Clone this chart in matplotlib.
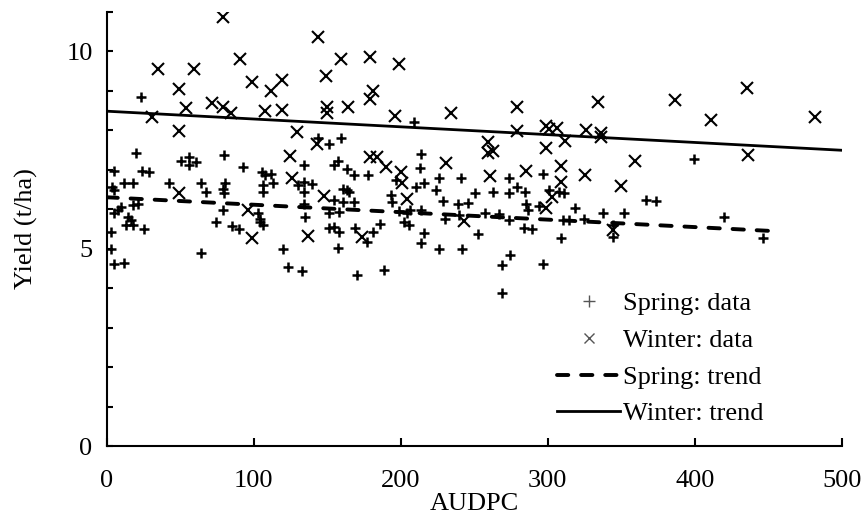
import matplotlib
matplotlib.use("Agg")
import matplotlib.pyplot as plt
from matplotlib.lines import Line2D
import numpy as np

plt.rcParams['font.family'] = ['Liberation Serif', 'DejaVu Serif']

# ---- data ----
spring_x = [20.1, 5.4, 24.2, 28.7, 12.2, 17.9, 3.9, 4.8, 42.8, 50.7, 56.4, 56.4, 60.9, 80.2, 93.1,
            64.3, 67.7, 80.8, 79.5, 80.2, 105.8, 108, 111.9, 113, 106.2, 106.2, 10, 7.7, 5.4, 17.9,
            21.3, 14.5, 16.8, 13.4, 17.9, 25.3, 3.2, 3.2, 5.4, 12.2, 79, 74.5, 85.4, 90.4, 64.3,
            102.8, 104, 106.2, 104, 143.5, 151.5, 159.4, 213.8, 213, 134.5, 157.1, 154.9, 163.3,
            168.5, 178, 134.5, 130, 139.7, 134.5, 134.5, 135.2, 154.9, 161, 163.3, 165, 160.5,
            168.5, 151.5, 158.3, 151.5, 154.9, 157.8, 169.2, 181, 186, 176.8, 157.1, 120.2, 123.6,
            132.9, 170.3, 188.9, 193.4, 194.1, 196.8, 210.4, 216, 199, 204, 206, 202.4, 205.8,
            213.8, 224, 226.2, 229, 230.3, 216, 213.8, 225.7, 241, 250.7, 262.9, 273.3, 273.3,
            278.7, 284.6, 296.9, 301, 307.7, 311, 238.7, 245.4, 239.8, 257.5, 267, 273.8, 285,
            286.3, 293.7, 284, 289.2, 318.6, 324.7, 337.2, 310, 314.5, 308.9, 344, 344, 252.2,
            241.6, 274.5, 268.8, 296.9, 268.8, 209.2, 23.6, 399.5, 366.6, 373.4, 351.9, 419.8,
            446.5]
spring_y = [7.41, 6.97, 6.97, 6.93, 6.67, 6.65, 6.56, 6.48, 6.67, 7.22, 7.32, 7.11, 7.20, 7.38, 7.06,
            6.65, 6.44, 6.65, 6.52, 6.40, 6.94, 6.86, 6.90, 6.65, 6.61, 6.44, 6.06, 5.97, 5.91, 6.10,
            6.12, 5.81, 5.72, 5.59, 5.59, 5.49, 5.43, 5.00, 4.62, 4.64, 5.97, 5.68, 5.57, 5.49, 4.89,
            5.91, 5.76, 5.59, 5.68, 7.79, 7.66, 7.79, 7.39, 7.03, 7.11, 7.22, 7.11, 7.01,
            6.86, 6.86, 6.69, 6.61, 6.63, 6.44, 6.14, 5.79, 6.23, 6.50, 6.48, 6.44, 6.18,
            6.18, 5.91, 5.93, 5.51, 5.54, 5.43, 5.51, 5.43, 5.62, 5.17, 5.02, 5.00, 4.54,
            4.43, 4.33, 4.47, 6.35, 6.18, 6.73, 6.56, 6.65, 5.96, 5.89, 5.97, 5.68, 5.59,
            5.97, 6.48, 6.80, 6.21, 5.76, 5.40, 5.13, 5.00, 6.78, 6.42, 6.44, 6.42, 6.80,
            6.55, 6.44, 6.90, 6.48, 6.44, 6.41, 6.14, 6.16, 5.85, 5.91, 5.87, 5.72, 6.14,
            5.97, 6.08, 5.51, 5.49, 6.02, 5.76, 5.91, 5.72, 5.72, 5.26, 5.59, 5.30, 5.36,
            4.98, 4.84, 4.58, 4.61, 3.88, 8.21, 8.84, 7.28, 6.23, 6.21, 5.91, 5.79,
            5.26]

winter_x = [79.5, 35.3, 59.8, 49.6, 54.3, 30.6, 49.6, 72, 79.5, 84.9, 91, 99.2, 112, 119, 108,
            119.6, 129.8, 144, 149.5, 159.6, 150, 150, 164, 125, 126.4, 143.3, 148, 49, 96, 99.2,
            137, 179, 199, 181, 179, 196, 234, 279, 279, 299, 301, 306, 326, 259.5, 259.5, 263,
            312, 299, 179, 184, 190, 200, 201, 204, 231, 261, 285, 309, 309, 325, 303, 299, 243,
            174, 334, 386.5, 435.5, 411, 481.6, 336, 336, 436, 359, 350, 344]
winter_y = [10.86, 9.54, 9.54, 9.04, 8.56, 8.33, 7.97, 8.68, 8.58, 8.43, 9.80, 9.22, 8.99, 9.27, 8.48,
            8.51, 7.95, 10.35, 9.37, 9.80, 8.58, 8.43, 8.58, 7.34, 6.78, 7.65, 6.33, 6.41, 5.97, 5.26,
            5.32, 9.85, 9.67, 8.99, 8.78, 8.35, 8.43, 8.58, 7.97, 8.10, 8.02, 8.05, 8.00, 7.70, 7.42, 7.47,
            7.72, 7.54, 7.32, 7.32, 7.06, 6.94, 6.66, 6.25, 7.16, 6.84, 6.96, 7.09, 6.68, 6.86, 6.30, 6.02, 5.70,
            5.29, 8.71, 8.76, 9.06, 8.25, 8.33, 7.92, 7.82, 7.37, 7.22, 6.58, 5.47]

spring_trend_x = [0, 450]
spring_trend_y = [6.30, 5.45]
winter_trend_x = [0, 500]
winter_trend_y = [8.48, 7.49]

fig = plt.figure(figsize=(8.61, 5.17), dpi=100)
ax = fig.add_axes([0.1237, 0.1373, 0.978 - 0.1237, 0.9774 - 0.1373])

ax.plot(spring_x, spring_y, linestyle='none', marker='+', markersize=7, mew=1.8, color='black', zorder=3)
ax.plot(winter_x, winter_y, linestyle='none', marker='x', markersize=8, mew=1.5, color='black', zorder=3)
ax.plot(spring_trend_x, spring_trend_y, color='black', lw=2.8, dashes=(2.9, 3.3),
        dash_capstyle='round', zorder=4)
ax.plot(winter_trend_x, winter_trend_y, color='black', lw=2.0, zorder=4)

ax.set_xlim(0, 500)
ax.set_ylim(0, 11)
for s in ['top', 'right']:
    ax.spines[s].set_visible(False)
for s in ['left', 'bottom']:
    ax.spines[s].set_linewidth(1.5)

ax.set_xticks([0, 100, 200, 300, 400, 500])
ax.set_yticks(list(range(0, 12)))
ax.set_yticklabels(['0', '', '', '', '', '5', '', '', '', '', '10', ''])
ax.tick_params(axis='x', direction='in', length=6, width=1.5, labelsize=19, pad=17)
ax.tick_params(axis='y', direction='in', length=4, width=1.5, labelsize=19, pad=10)

ax.set_xlabel('AUDPC', fontsize=19, labelpad=1)
ax.set_ylabel('Yield (t/ha)', fontsize=19, labelpad=20)

handles = [
    Line2D([], [], linestyle='none', marker='+', markersize=8, mew=1.0, color='#555555'),
    Line2D([], [], linestyle='none', marker='x', markersize=7, mew=1.0, color='#555555'),
    Line2D([], [], color='black', lw=2.8, dashes=(2.9, 3.3), dash_capstyle='round'),
    Line2D([], [], color='black', lw=2.0),
]
labels = ['Spring: data', 'Winter: data', 'Spring: trend', 'Winter: trend']
fig.legend(handles, labels, loc='upper left', bbox_to_anchor=(557 / 861, 1 - 292 / 517),
           frameon=False, fontsize=19, handlelength=2.4, handletextpad=0.1,
           labelspacing=0.5, borderpad=0, borderaxespad=0)

fig.savefig('out.png', dpi=100)
